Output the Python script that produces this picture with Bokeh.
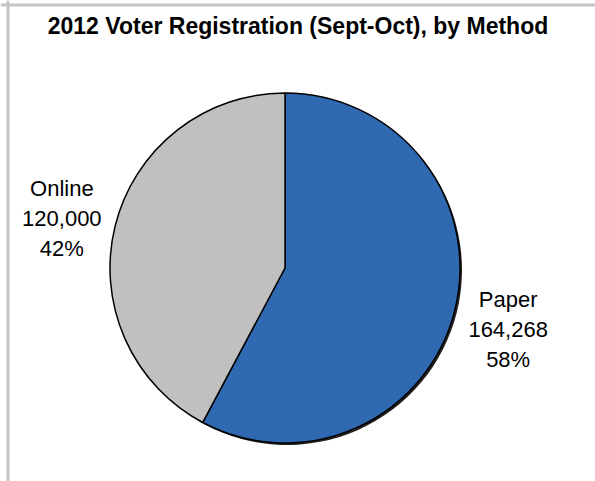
import math
from bokeh.plotting import figure
from bokeh.models import Range1d, Span, ColumnDataSource, Label
from bokeh.embed import file_html
from bokeh.resources import INLINE
from bokeh.core.properties import value

# ---- data ----
title_text = "2012 Voter Registration (Sept-Oct), by Method"
categories = ["Paper", "Online"]
counts = [164268, 120000]
colors = ["#2E69B2", "#C0C0C0"]

# ---- layout constants ----
W, H = 595, 481
CX, CY, R = 284.5, 213.5, 175
LABEL_R = 230
FONT = "Liberation Sans"

total = sum(counts)
starts, ends, mids, pcts = [], [], [], []
cum = 0.0
for c in counts:
    a0 = math.pi / 2 - 2 * math.pi * cum / total
    cum += c
    a1 = math.pi / 2 - 2 * math.pi * cum / total
    starts.append(a0)
    ends.append(a1)
    mids.append((a0 + a1) / 2)
    pcts.append(f"{round(100 * c / total)}%")

src = ColumnDataSource(dict(
    start=starts, end=ends, color=colors,
    x=[CX] * len(counts), y=[CY] * len(counts),
    sx=[CX + 2] * len(counts), sy=[CY - 2] * len(counts),
    lx=[CX + LABEL_R * math.cos(m) for m in mids],
    ly=[CY + LABEL_R * math.sin(m) for m in mids],
    name=categories,
    count=[f"{c:,}" for c in counts],
    pct=pcts,
))

p = figure(width=W, height=H, x_range=Range1d(0, W), y_range=Range1d(0, H),
           x_axis_type=None, y_axis_type=None, output_backend="svg",
           toolbar_location=None, min_border=0)
p.outline_line_color = None
p.background_fill_color = "white"

# shadow for the pie
p.wedge(x="sx", y="sy", radius=R, start_angle="start", end_angle="end",
        direction="clock", fill_color="#222222", line_color=None, source=src)
p.wedge(x="x", y="y", radius=R, start_angle="start", end_angle="end",
        direction="clock", fill_color="color", line_color="black",
        line_width=1.5, source=src)

for field, off in (("name", -30), ("count", 0), ("pct", 30)):
    p.text(x="lx", y="ly", text=field, source=src, y_offset=off + 6,
           text_align="center", text_baseline="middle",
           text_font=value(FONT), text_font_size="22px", text_color="black")

p.add_layout(Label(x=297.5, y=H - 25, text=title_text, text_align="center",
                   text_baseline="middle", text_font=FONT,
                   text_font_size="23px", text_font_style="bold",
                   text_color="black"))

p.add_layout(Span(location=7.5, dimension="height", line_color="#C4C4C4", line_width=3))
p.add_layout(Span(location=H - 4.5, dimension="width", line_color="#C4C4C4", line_width=3))

open("out.html", "w").write(file_html(p, INLINE))
